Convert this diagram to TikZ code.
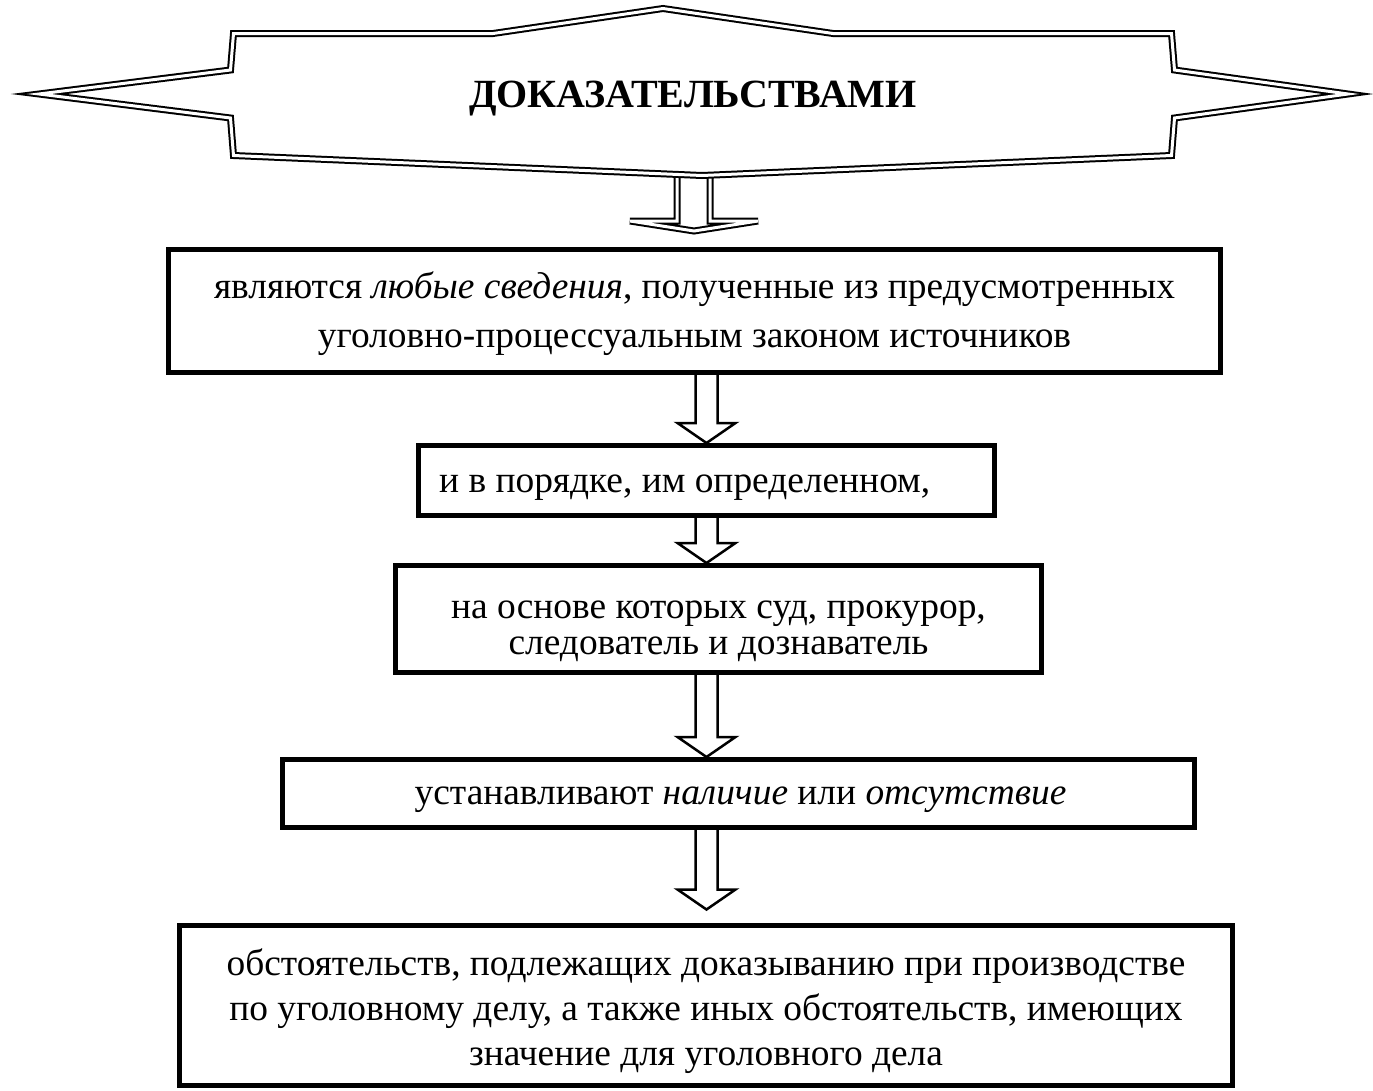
\documentclass[tikz,border=0pt]{standalone}
\usepackage{fontspec}
\setmainfont{Liberation Serif}
\usetikzlibrary{calc}

% block arrow between two boxes, #3 = gap left above the lower box
\newcommand\blockarr[3]{%
  \draw[barrow] let \p1=(axis |- #1.south), \p2=(axis |- #2.north) in
    (\x1-11pt,\y1) -- (\x1-11pt,\y2+#3pt+20pt) -- (\x1-29pt,\y2+#3pt+20pt) -- (\x1,\y2+#3pt)
    -- (\x1+29pt,\y2+#3pt+20pt) -- (\x1+11pt,\y2+#3pt+20pt) -- (\x1+11pt,\y1);}

\begin{document}
\begin{tikzpicture}[x=1pt,y=-1pt,
  box/.style={rectangle,draw=black,line width=5pt,inner sep=0pt},
  txt/.style={align=center,inner sep=0pt,font=\fontsize{37.4}{48}\selectfont},
  barrow/.style={draw=black,line width=2.5pt,line join=miter},
  dbl/.style={draw=black,double=white,line width=2pt,double distance=3pt,line join=miter},
  heading/.style={font=\fontsize{40}{44}\selectfont\bfseries}]
\useasboundingbox (0,0) rectangle (1373,1090);
\coordinate (axis) at (706.5,0);

% title banner
\coordinate (tbot) at (702,175.5);
\draw[dbl] (677,176) -- (677,221) -- (630,221) -- (694,231) -- (758,221) -- (710,221) -- (710,176);
\draw[dbl] (39,94) -- (230.5,70) -- (233.5,33.5) -- (493,33.5) -- (663,8.5) -- (833,33.5)
  -- (1171.5,33.5) -- (1174.5,70) -- (1348,94) -- (1174.5,118) -- (1171.5,155.5)
  -- (tbot) -- (233.5,155.5) -- (230.5,118) -- cycle;
\node[heading] (title) at (693,99) {ДОКАЗАТЕЛЬСТВАМИ};

% boxes
\node[box,minimum width=1052,minimum height=123] (b1) at (694.5,311) {};
\node[box,minimum width=576,minimum height=70] (b2) at (706.5,480.5) {};
\node[box,minimum width=646,minimum height=107] (b3) at (718.5,619) {};
\node[box,minimum width=912,minimum height=68] (b4) at (738.5,793.5) {};
\node[box,minimum width=1053,minimum height=160] (b5) at (706,1005) {};

% texts
\node[txt,font=\fontsize{37.4}{49}\selectfont] (t1) at ($(b1)+(0,3)$)
  {являются \textit{любые сведения}, полученные из предусмотренных\\уголовно-процессуальным законом источников};
\node[txt,anchor=west] (t2) at ($(b2.west)+(23,7)$) {и в порядке, им определенном,};
\node[txt,font=\fontsize{37.4}{36}\selectfont] (t3) at ($(b3)+(0,12)$)
  {на основе которых суд, прокурор,\\следователь и дознаватель};
\node[txt] (t4) at ($(b4)+(2,6)$) {устанавливают \textit{наличие} или \textit{отсутствие}};
\node[txt,font=\fontsize{37.4}{45}\selectfont] (t5) at ($(b5)+(0,6)$)
  {обстоятельств, подлежащих доказыванию при производстве\\по уголовному делу, а также иных обстоятельств, имеющих\\значение для уголовного дела};

\foreach \u/\v/\g in {b1/b2/0,b2/b3/0,b3/b4/0,b4/b5/13} \blockarr{\u}{\v}{\g};
\end{tikzpicture}
\end{document}
